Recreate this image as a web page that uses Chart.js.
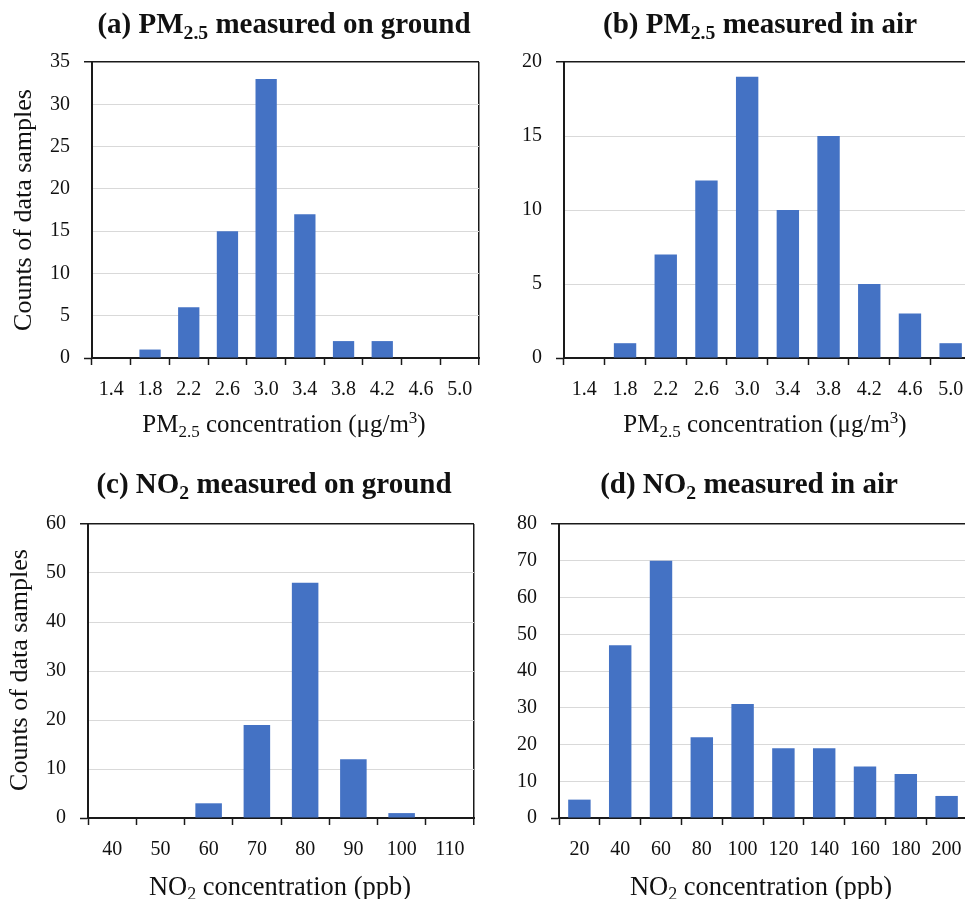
<!DOCTYPE html>
<html>
<head>
<meta charset="utf-8">
<script src="https://cdn.jsdelivr.net/npm/chart.js@4.4.1/dist/chart.umd.min.js"></script>
<style>
  html, body { margin:0; padding:0; background:#fff; overflow:hidden; width:965px; height:899px; }
  canvas { position:absolute; }
</style>
</head>
<body>
<canvas id="ca" width="495" height="450" style="left:0px;top:0px"></canvas>
<canvas id="cb" width="500" height="450" style="left:480px;top:0px"></canvas>
<canvas id="cc" width="495" height="449" style="left:0px;top:450px"></canvas>
<canvas id="cd" width="500" height="449" style="left:480px;top:450px"></canvas>
<script>
// ---- data ----
const pmBins = ['1.4','1.8','2.2','2.6','3.0','3.4','3.8','4.2','4.6','5.0'];
const pmGroundCounts = [0, 1, 6, 15, 33, 17, 2, 2, 0, 0];
const pmAirCounts = [0, 1, 7, 12, 19, 10, 15, 5, 3, 1];
const no2GroundBins = ['40','50','60','70','80','90','100','110'];
const no2GroundCounts = [0, 0, 3, 19, 48, 12, 1, 0];
const no2AirBins = ['20','40','60','80','100','120','140','160','180','200'];
const no2AirCounts = [5, 47, 70, 22, 31, 19, 19, 14, 12, 6];
const titles = ['(a) PM_{2.5} measured on ground', '(b) PM_{2.5} measured in air',
                '(c) NO_{2} measured on ground', '(d) NO_{2} measured in air'];
const xTitles = ['PM_{2.5} concentration (μg/m^{3})', 'PM_{2.5} concentration (μg/m^{3})',
                 'NO_{2} concentration (ppb)', 'NO_{2} concentration (ppb)'];
const yTitle = 'Counts of data samples';

const FONT = "'Liberation Serif', 'Times New Roman', serif";
const BAR = '#4472C4';
const DARK = '#1a1a1a';
const LIGHT = '#d9d9d9';
const TEXT = '#111';

function parseRich(s) {
  const segs = []; const re = /([_^])\{([^}]*)\}/g; let last = 0, m;
  while ((m = re.exec(s))) {
    if (m.index > last) segs.push({t: s.slice(last, m.index), k: ''});
    segs.push({t: m[2], k: m[1]});
    last = re.lastIndex;
  }
  if (last < s.length) segs.push({t: s.slice(last), k: ''});
  return segs;
}
function drawRich(ctx, str, x, y, size, weight) {
  const segs = parseRich(str);
  const f = sz => `${weight} ${sz}px ${FONT}`;
  let w = 0;
  segs.forEach(sg => { ctx.font = f(sg.k ? size * 0.68 : size); sg.w = ctx.measureText(sg.t).width; w += sg.w; });
  let cx = x - w / 2;
  ctx.textAlign = 'left'; ctx.textBaseline = 'alphabetic'; ctx.fillStyle = TEXT;
  segs.forEach(sg => {
    ctx.font = f(sg.k ? size * 0.68 : size);
    const dy = sg.k === '_' ? size * 0.2 : (sg.k === '^' ? -size * 0.36 : 0);
    ctx.fillText(sg.t, cx, y + dy);
    cx += sg.w;
  });
}

const textPlugin = {
  id: 'richText',
  afterDraw(chart) {
    const o = chart.options.plugins.richText;
    const ctx = chart.ctx;
    ctx.save();
    drawRich(ctx, o.title, o.titleX, o.titleY, 29, 'bold');
    drawRich(ctx, o.xTitle, o.xTitleX, o.xTitleY, o.xTitleSize, 'normal');
    if (o.yTitle) {
      ctx.translate(o.yTitleX, o.yTitleY);
      ctx.rotate(-Math.PI / 2);
      ctx.font = `normal 26px ${FONT}`;
      ctx.textAlign = 'center'; ctx.textBaseline = 'alphabetic'; ctx.fillStyle = TEXT;
      ctx.fillText(o.yTitle, 0, 0);
    }
    ctx.restore();
  }
};

function makeChart(id, labels, values, max, step, area, W, H, rich) {
  new Chart(document.getElementById(id), {
    type: 'bar',
    data: { labels: labels, datasets: [{ data: values, backgroundColor: BAR, borderWidth: 0,
      barPercentage: 0.55, categoryPercentage: 1.0 }] },
    options: {
      responsive: false, animation: false, devicePixelRatio: 1,
      layout: { padding: { left: 0, top: area.t, right: W - area.r, bottom: 0 } },
      plugins: { legend: { display: false }, tooltip: { enabled: false }, title: { display: false },
        richText: rich },
      scales: {
        x: {
          offset: true,
          afterFit: s => { s.height = H - area.b; },
          grid: { offset: true, drawOnChartArea: true, tickLength: 7,
            color: c => c.type === 'scale' ? DARK : 'rgba(0,0,0,0)',
            lineWidth: c => c.type === 'scale' ? 1.5 : 1,
            tickColor: DARK, tickWidth: 1.5 },
          border: { color: DARK, width: 2 },
          ticks: { font: { family: FONT, size: 20 }, color: TEXT, padding: 13, maxRotation: 0, autoSkip: false }
        },
        y: {
          min: 0, max: max,
          afterFit: s => { s.width = area.l; },
          grid: { tickLength: 8,
            color: c => (c.tick && (c.tick.value === max || c.tick.value === 0)) ? DARK : LIGHT,
            lineWidth: c => (c.tick && c.tick.value === max) ? 1.5 : 1,
            tickColor: c => (c.tick && (c.tick.value === max || c.tick.value === 0)) ? DARK : 'rgba(0,0,0,0)',
            tickWidth: 1.5 },
          border: { color: DARK, width: 2 },
          ticks: { stepSize: step, font: { family: FONT, size: 20 }, color: TEXT, padding: 14 }
        }
      }
    },
    plugins: [textPlugin]
  });
}

makeChart('ca', pmBins, pmGroundCounts, 35, 5, {l: 92, r: 479, t: 62, b: 358}, 495, 450,
  {title: titles[0], titleX: 284, titleY: 33, xTitle: xTitles[0], xTitleX: 284, xTitleY: 432, xTitleSize: 25,
   yTitle: yTitle, yTitleX: 31, yTitleY: 210});
makeChart('cb', pmBins, pmAirCounts, 20, 5, {l: 84, r: 491, t: 62, b: 358}, 500, 450,
  {title: titles[1], titleX: 280, titleY: 33, xTitle: xTitles[1], xTitleX: 285, xTitleY: 432, xTitleSize: 25});
makeChart('cc', no2GroundBins, no2GroundCounts, 60, 10, {l: 88, r: 474, t: 74, b: 368}, 495, 449,
  {title: titles[2], titleX: 274, titleY: 43, xTitle: xTitles[2], xTitleX: 280, xTitleY: 445, xTitleSize: 26.5,
   yTitle: yTitle, yTitleX: 27, yTitleY: 220});
makeChart('cd', no2AirBins, no2AirCounts, 80, 10, {l: 79, r: 487, t: 74, b: 368}, 500, 449,
  {title: titles[3], titleX: 269, titleY: 43, xTitle: xTitles[3], xTitleX: 281, xTitleY: 445, xTitleSize: 26.5});
</script>
</body>
</html>
